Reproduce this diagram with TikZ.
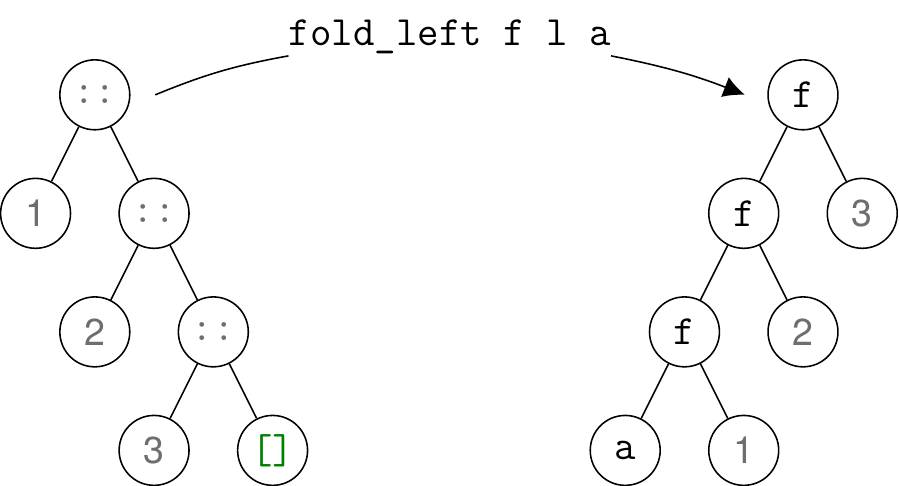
\documentclass[tikz,border=0pt]{standalone}
\usepackage{fontspec}
\newfontfamily\digitfont{TeX Gyre Heros}
\usepackage{tikz}
\usetikzlibrary{positioning, arrows.meta}

\definecolor{leafgray}{RGB}{110,110,110}
\definecolor{nilgreen}{RGB}{0,128,0}

\begin{document}
\begin{tikzpicture}[
    on grid,
    node distance=2cm and 1cm,
    cell/.style={circle, draw=black, line width=0.75pt, minimum size=1.18cm, inner sep=0pt, font=\fontsize{20}{24}\ttfamily},
    cons/.style={cell, text=leafgray},
    num/.style={cell, font=\fontsize{18}{21}\digitfont, text=leafgray},
    nil/.style={cell, text=nilgreen},
    edge/.style={line width=0.75pt},
    arrow/.style={-{Latex[length=3.6mm, width=3.6mm]}, line width=0.75pt}
]
    \useasboundingbox (0,0) rectangle (15.17,-8.19);

    % list 1 :: 2 :: 3 :: []
    \node [cons] (consA) at (1.6,-1.6) {::};
    \node [num, below left=of consA] (oneL) {1};
    \node [cons, below right=of consA] (consB) {::};
    \node [num, below left=of consB] (twoL) {2};
    \node [cons, below right=of consB] (consC) {::};
    \node [num, below left=of consC] (threeL) {3};
    \node [nil, below right=of consC] (nil) {[]};

    % result f (f (f a 1) 2) 3
    \node [cell] (fA) at (13.55,-1.6) {f};
    \node [cell, below left=of fA] (fB) {f};
    \node [num, below right=of fA] (threeR) {3};
    \node [cell, below left=of fB] (fC) {f};
    \node [num, below right=of fB] (twoR) {2};
    \node [cell, below left=of fC] (acc) {a};
    \node [num, below right=of fC] (oneR) {1};

    \foreach \p/\c in {consA/oneL, consA/consB, consB/twoL, consB/consC, consC/threeL, consC/nil,
                       fA/fB, fA/threeR, fB/fC, fB/twoR, fC/acc, fC/oneR}
        \draw [edge] (\p) -- (\c);

    % the call
    \node [anchor=base, inner sep=0pt, font=\fontsize{20}{24}\ttfamily] (call) at (7.59,-0.76) {fold\_left f l a};
    \coordinate (tail) at (2.62,-1.6);
    \coordinate (tip) at (12.57,-1.6);
    \draw [edge] (tail) to [bend left=6] ([yshift=-1pt]call.south west);
    \draw [arrow] ([yshift=-1pt]call.south east) to [bend left=5] (tip);
\end{tikzpicture}
\end{document}
